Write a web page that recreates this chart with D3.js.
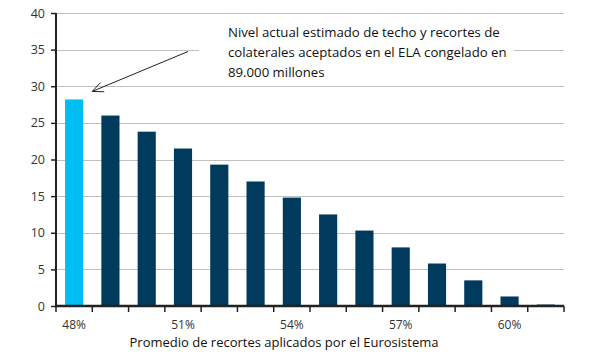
<!DOCTYPE html>
<html><head><meta charset="utf-8">
<script src="https://cdn.jsdelivr.net/npm/d3@7"></script>
<style>body{margin:0;background:#fff}svg{display:block}</style>
</head><body>
<svg id="c" width="589" height="357"></svg>
<script>
const categories = ["48%","49%","50%","51%","52%","53%","54%","55%","56%","57%","58%","59%","60%","61%"];
const values = [28.2, 26.0, 23.8, 21.5, 19.3, 17.0, 14.8, 12.5, 10.3, 8.0, 5.8, 3.5, 1.3, 0.2];
const shownLabels = ["48%","51%","54%","57%","60%"];
const yTicks = [0,5,10,15,20,25,30,35,40];
const highlight = "48%";
const annotationLines = ["Nivel actual estimado de techo y recortes de","colaterales aceptados en el ELA congelado en","89.000 millones"];
const xTitle = "Promedio de recortes aplicados por el Eurosistema";

const svg = d3.select("#c");
const L = 56, R = 564, T = 13, B = 306;
const x = d3.scaleBand().domain(categories).range([L, R]).paddingInner(0.5).paddingOuter(0.25);
const y = d3.scaleLinear().domain([0, 40]).range([B, T]);
const font = "'Open Sans', 'Noto Sans', sans-serif";

// gridlines
svg.append("g").selectAll("line").data(yTicks.filter(d => d > 0)).join("line")
  .attr("x1", L).attr("x2", R).attr("y1", d => Math.round(y(d)) + 0.5).attr("y2", d => Math.round(y(d)) + 0.5)
  .attr("stroke", "#c0c0c0").attr("stroke-width", 1);

// bars
svg.append("g").selectAll("rect").data(categories).join("rect")
  .attr("x", d => x(d)).attr("width", x.bandwidth())
  .attr("y", (d, i) => y(values[i])).attr("height", (d, i) => B - y(values[i]))
  .attr("fill", d => d === highlight ? "#00bdf2" : "#003a5d");

// y axis
const ya = svg.append("g").attr("transform", `translate(${L},0)`)
  .call(d3.axisLeft(y).tickValues(yTicks).tickSize(5).tickPadding(6));
ya.select(".domain").attr("stroke", "#222").attr("stroke-width", 2).attr("d", `M0,${T}V${B}`);
ya.selectAll(".tick line").attr("stroke", "#222").attr("stroke-width", 1.5);
ya.selectAll("text").attr("font-family", font).attr("font-size", 12.5).attr("fill", "#333");

// x axis with boundary ticks
const xa = svg.append("g");
xa.append("line").attr("x1", L - 1).attr("x2", R).attr("y1", B).attr("y2", B)
  .attr("stroke", "#222").attr("stroke-width", 2.5);
const step = x.step();
const bounds = d3.range(categories.length + 1).map(i => L + (i === 0 ? 0 : x(categories[i - 1]) - L + x.bandwidth() + step * 0.25));
xa.selectAll("line.t").data(bounds).join("line").attr("class", "t")
  .attr("x1", d => d).attr("x2", d => d).attr("y1", B).attr("y2", B + 6)
  .attr("stroke", "#222").attr("stroke-width", 1.5);
xa.selectAll("text").data(shownLabels).join("text")
  .attr("x", d => x(d) + x.bandwidth() / 2).attr("y", B + 23)
  .attr("text-anchor", "middle").attr("font-family", font).attr("font-size", 12).attr("fill", "#333")
  .text(d => d);
svg.append("text").attr("x", 284).attr("y", 347).attr("text-anchor", "middle")
  .attr("font-family", font).attr("font-size", 13).attr("fill", "#111").text(xTitle);

// annotation
svg.append("rect").attr("x", 199).attr("y", 22).attr("width", 315).attr("height", 58).attr("fill", "#fff");
const at = svg.append("text").attr("font-family", font).attr("font-size", 13.2).attr("fill", "#111");
annotationLines.forEach((s, i) => at.append("tspan").attr("x", 228).attr("y", 37 + i * 20).text(s));

// arrow
const tipX = x(highlight) + x.bandwidth() + 9, tipY = y(28.2) - 8;
svg.append("line").attr("x1", 188).attr("y1", 51.5).attr("x2", tipX).attr("y2", tipY)
  .attr("stroke", "#222").attr("stroke-width", 1);
const ang = Math.atan2(51.5 - tipY, 188 - tipX);
[0.42, -0.42].forEach(a => {
  svg.append("line").attr("x1", tipX).attr("y1", tipY)
    .attr("x2", tipX + 12 * Math.cos(ang + a)).attr("y2", tipY + 12 * Math.sin(ang + a))
    .attr("stroke", "#222").attr("stroke-width", 1);
});
</script>
</body></html>
